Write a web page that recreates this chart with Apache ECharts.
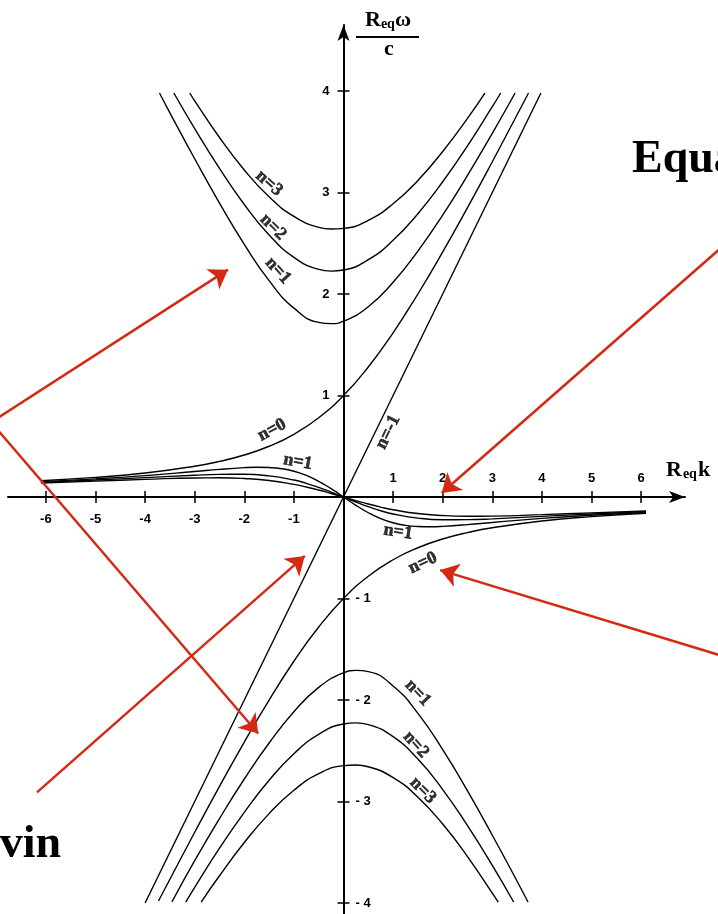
<!DOCTYPE html>
<html>
<head>
<meta charset="utf-8">
<script src="https://cdn.jsdelivr.net/npm/echarts@6/dist/echarts.min.js"></script>
<style>
html,body{margin:0;padding:0;background:#fff}
#chart{width:718px;height:914px}
</style>
</head>
<body>
<div id="chart"></div>
<script>
// tick values
var xNegTicks = [-6,-5,-4,-3,-2,-1];
var xPosTicks = [1,2,3,4,5,6];
var yPosTicks = [1,2,3,4];
var yNegTicks = [-1,-2,-3,-4];

// curves, [Req k, Req w / c]
var kelvin = [[-4.0,-4.0],[3.98,3.98]];

var mrgUp = [[-6.1,0.16],[-5,0.193],[-4,0.236],[-3,0.303],[-2.5,0.351],[-2,0.414],[-1.5,0.5],[-1,0.618],[-0.5,0.781],[0,1],[0.5,1.281],[1,1.618],[1.5,2.0],[2,2.414],[2.5,2.851],[3,3.303],[3.5,3.766],[3.73,3.98]];
var mrgDown = [[-3.73,-3.98],[-3.5,-3.766],[-3,-3.303],[-2.5,-2.851],[-2,-2.414],[-1.5,-2.0],[-1,-1.618],[-0.5,-1.281],[0,-1],[0.5,-0.781],[1,-0.618],[1.5,-0.5],[2,-0.414],[2.5,-0.351],[3,-0.303],[4,-0.236],[5,-0.193],[6.1,-0.16]];

var ig1Up = [[-3.71,3.98],[-3.5,3.785],[-3,3.332],[-2.5,2.896],[-2,2.489],[-1.5,2.132],[-1,1.861],[-0.5,1.72],[-0.25,1.708],[0,1.732],[0.5,1.875],[1,2.115],[1.5,2.423],[2,2.778],[2.5,3.168],[3,3.583],[3.46,3.98]];
var ig2Up = [[-3.42,3.98],[-3,3.629],[-2.5,3.237],[-2,2.882],[-1.5,2.582],[-1,2.361],[-0.5,2.242],[-0.25,2.225],[0,2.236],[0.5,2.338],[1,2.529],[1.5,2.791],[2,3.106],[2.5,3.46],[3,3.845],[3.17,3.98]];
var ig3Up = [[-3.1,3.98],[-3,3.903],[-2.5,3.542],[-2,3.222],[-1.5,2.957],[-1,2.764],[-0.5,2.657],[-0.25,2.64],[0,2.646],[0.5,2.726],[1,2.889],[1.5,3.119],[2,3.404],[2.5,3.731],[2.85,3.98]];

var ig1Down = [[-3.46,-3.99],[-3,-3.583],[-2.5,-3.168],[-2,-2.778],[-1.5,-2.423],[-1,-2.115],[-0.5,-1.875],[0,-1.732],[0.25,-1.708],[0.5,-1.72],[1,-1.861],[1.5,-2.132],[2,-2.489],[2.5,-2.896],[3,-3.332],[3.5,-3.785],[3.72,-3.99]];
var ig2Down = [[-3.18,-3.99],[-3,-3.845],[-2.5,-3.46],[-2,-3.106],[-1.5,-2.791],[-1,-2.529],[-0.5,-2.338],[0,-2.236],[0.25,-2.225],[0.5,-2.242],[1,-2.361],[1.5,-2.582],[2,-2.882],[2.5,-3.237],[3,-3.629],[3.43,-3.99]];
var ig3Down = [[-2.87,-3.99],[-2.5,-3.731],[-2,-3.404],[-1.5,-3.119],[-1,-2.889],[-0.5,-2.726],[0,-2.646],[0.25,-2.64],[0.5,-2.657],[1,-2.764],[1.5,-2.957],[2,-3.222],[2.5,-3.542],[3,-3.903],[3.12,-3.99]];

var ros1Up = [[-6.1,0.152],[-5,0.179],[-4,0.211],[-3,0.251],[-2.5,0.272],[-2,0.289],[-1.75,0.293],[-1.5,0.29],[-1.25,0.279],[-1,0.254],[-0.75,0.213],[-0.5,0.155],[-0.25,0.082],[0,0]];
var ros2Up = [[-6.1,0.144],[-5,0.167],[-4,0.191],[-3,0.215],[-2.5,0.223],[-2,0.224],[-1.5,0.208],[-1,0.167],[-0.75,0.135],[-0.5,0.095],[-0.25,0.049],[0,0]];
var ros3Up = [[-6.1,0.138],[-5,0.156],[-4,0.174],[-3,0.188],[-2.5,0.189],[-2,0.182],[-1.5,0.163],[-1,0.125],[-0.75,0.099],[-0.5,0.069],[-0.25,0.035],[0,0]];
var ros1Down = [[0,0],[0.25,-0.082],[0.5,-0.155],[0.75,-0.213],[1,-0.254],[1.25,-0.279],[1.5,-0.29],[1.75,-0.293],[2,-0.289],[2.5,-0.272],[3,-0.251],[4,-0.211],[5,-0.179],[6.1,-0.152]];
var ros2Down = [[0,0],[0.25,-0.049],[0.5,-0.095],[0.75,-0.135],[1,-0.167],[1.5,-0.208],[2,-0.224],[2.5,-0.223],[3,-0.215],[4,-0.191],[5,-0.167],[6.1,-0.144]];
var ros3Down = [[0,0],[0.25,-0.035],[0.5,-0.069],[0.75,-0.099],[1,-0.125],[1.5,-0.163],[2,-0.182],[2.5,-0.189],[3,-0.188],[4,-0.174],[5,-0.156],[6.1,-0.138]];

// curve labels
var labelText = ['n=3','n=2','n=1','n=0','n=1','n=-1','n=1','n=0','n=1','n=2','n=3'];
var labelK    = [-1.50,-1.42,-1.32,-1.44,-0.92,0.90,1.10,1.60,1.50,1.46,1.60];
var labelW    = [3.09,2.66,2.23,0.66,0.345,0.64,-0.345,-0.65,-1.93,-2.44,-2.89];
var labelRot  = [-42,-45,-48,28,-10,64,-8,25,-47,-48,-45];

// red arrows, start and tip
var arrowFrom = [[-6.97,0.78],[-6.97,0.66],[7.6,2.45],[7.6,-1.56],[-6.18,-2.91]];
var arrowTo   = [[-2.33,2.24],[-1.72,-2.33],[1.98,0.04],[1.95,-0.72],[-0.78,-0.58]];

var allX = xNegTicks.concat(xPosTicks);
var allY = yPosTicks.concat(yNegTicks);

var myChart = echarts.init(document.getElementById('chart'));

function curve(d){
    return {
        type:'line', data:d, symbol:'none', smooth:true,
        lineStyle:{color:'#000', width:1.4}, silent:true
    };
}

var series = [kelvin, mrgUp, mrgDown, ig1Up, ig2Up, ig3Up, ig1Down, ig2Down, ig3Down,
    ros1Up, ros2Up, ros3Up, ros1Down, ros2Down, ros3Down].map(curve);

// kelvin is straight
series[0].smooth = false;

var labelData = [];
for (var i = 0; i < labelText.length; i++) {
    labelData.push({
        value:[labelK[i], labelW[i]],
        name:labelText[i],
        label:{rotate:labelRot[i]}
    });
}
series.push({
    type:'scatter', data:labelData, symbolSize:0, silent:true,
    label:{
        show:true, position:'inside', formatter:'{b}',
        fontFamily:'Liberation Serif', fontWeight:'bold', fontSize:18, color:'#000',
        textBorderColor:'#000', textBorderWidth:0.6
    }
});

var arrowData = [];
for (var j = 0; j < arrowFrom.length; j++) {
    arrowData.push({coords:[arrowFrom[j], arrowTo[j]]});
}
series.push({
    type:'lines', coordinateSystem:'cartesian2d', data:arrowData, clip:false,
    symbol:['none','arrow'], symbolSize:[12,18], silent:true,
    lineStyle:{color:'#d42a14', width:2.5, opacity:1}, z:10
});

var tickFont = {fontFamily:'Liberation Sans', fontWeight:'bold', fontSize:13, color:'#000'};

// grid: left 8, right edge 685, top 25, bottom 914 ; origin at (343.5, 497)
option = {
    animation:false,
    grid:{left:8, right:33, top:25, bottom:0, outerBoundsMode:'none'},
    xAxis:[{
        type:'value', min:-6.764, max:6.885, position:'bottom', offset:-417,
        axisLine:{onZero:false, symbol:['none','arrow'], symbolSize:[9,16], lineStyle:{color:'#000', width:2}},
        axisTick:{show:true, length:6, customValues:allX, lineStyle:{color:'#000', width:1.5}},
        axisLabel:Object.assign({customValues:xNegTicks, margin:16}, tickFont),
        splitLine:{show:false}
    },{
        type:'value', min:-6.764, max:6.885, position:'top', offset:-472,
        axisLine:{onZero:false, show:false},
        axisTick:{show:true, length:6, customValues:allX, lineStyle:{color:'#000', width:1.5}},
        axisLabel:Object.assign({customValues:xPosTicks, margin:12}, tickFont),
        splitLine:{show:false}
    }],
    yAxis:[{
        type:'value', min:-4.108, max:4.65, position:'left', offset:-335.5,
        axisLine:{onZero:false, symbol:['none','arrow'], symbolSize:[9,16], lineStyle:{color:'#000', width:2}},
        axisTick:{show:true, length:6, customValues:allY, lineStyle:{color:'#000', width:1.5}},
        axisLabel:Object.assign({customValues:yPosTicks, margin:14}, tickFont),
        splitLine:{show:false}
    },{
        type:'value', min:-4.108, max:4.65, position:'right', offset:-341.5,
        axisLine:{onZero:false, show:false},
        axisTick:{show:true, length:6, customValues:allY, lineStyle:{color:'#000', width:1.5}},
        axisLabel:Object.assign({customValues:yNegTicks, margin:12, formatter:function(v){return '- ' + Math.abs(v);}}, tickFont),
        splitLine:{show:false}
    }],
    graphic:[
        {type:'text', x:388, y:9, style:{
            text:'{r|R}{s|eq}{w|ω}', align:'center', verticalAlign:'top',
            rich:{
                r:{fontFamily:'Liberation Serif', fontWeight:'bold', fontSize:22, fill:'#000'},
                s:{fontFamily:'Liberation Serif', fontWeight:'bold', fontSize:14, fill:'#000', verticalAlign:'bottom', padding:[8,0,0,0]},
                w:{fontFamily:'Liberation Serif', fontWeight:'bold', fontSize:22, fill:'#000'}
            }}},
        {type:'line', shape:{x1:356, y1:37, x2:419, y2:37}, style:{stroke:'#000', lineWidth:2}},
        {type:'text', x:389, y:49, style:{text:'c', align:'center', verticalAlign:'middle',
            font:'bold 22px "Liberation Serif"', fill:'#000'}},
        {type:'text', x:666, y:470, style:{
            text:'{r|R}{s|eq}{k|k}', align:'left', verticalAlign:'middle',
            rich:{
                r:{fontFamily:'Liberation Serif', fontWeight:'bold', fontSize:22, fill:'#000'},
                s:{fontFamily:'Liberation Serif', fontWeight:'bold', fontSize:14, fill:'#000', padding:[8,1,0,1]},
                k:{fontFamily:'Liberation Serif', fontWeight:'bold', fontSize:22, fill:'#000'}
            }}},
        {type:'text', x:632, y:160, style:{text:'Equatorial', align:'left', verticalAlign:'middle',
            font:'bold 46px "Liberation Serif"', fill:'#000'}},
        {type:'text', x:61, y:845, style:{text:'Kelvin', align:'right', verticalAlign:'middle',
            font:'bold 46px "Liberation Serif"', fill:'#000'}}
    ],
    series:series
};

myChart.setOption(option);
</script>
</body>
</html>
